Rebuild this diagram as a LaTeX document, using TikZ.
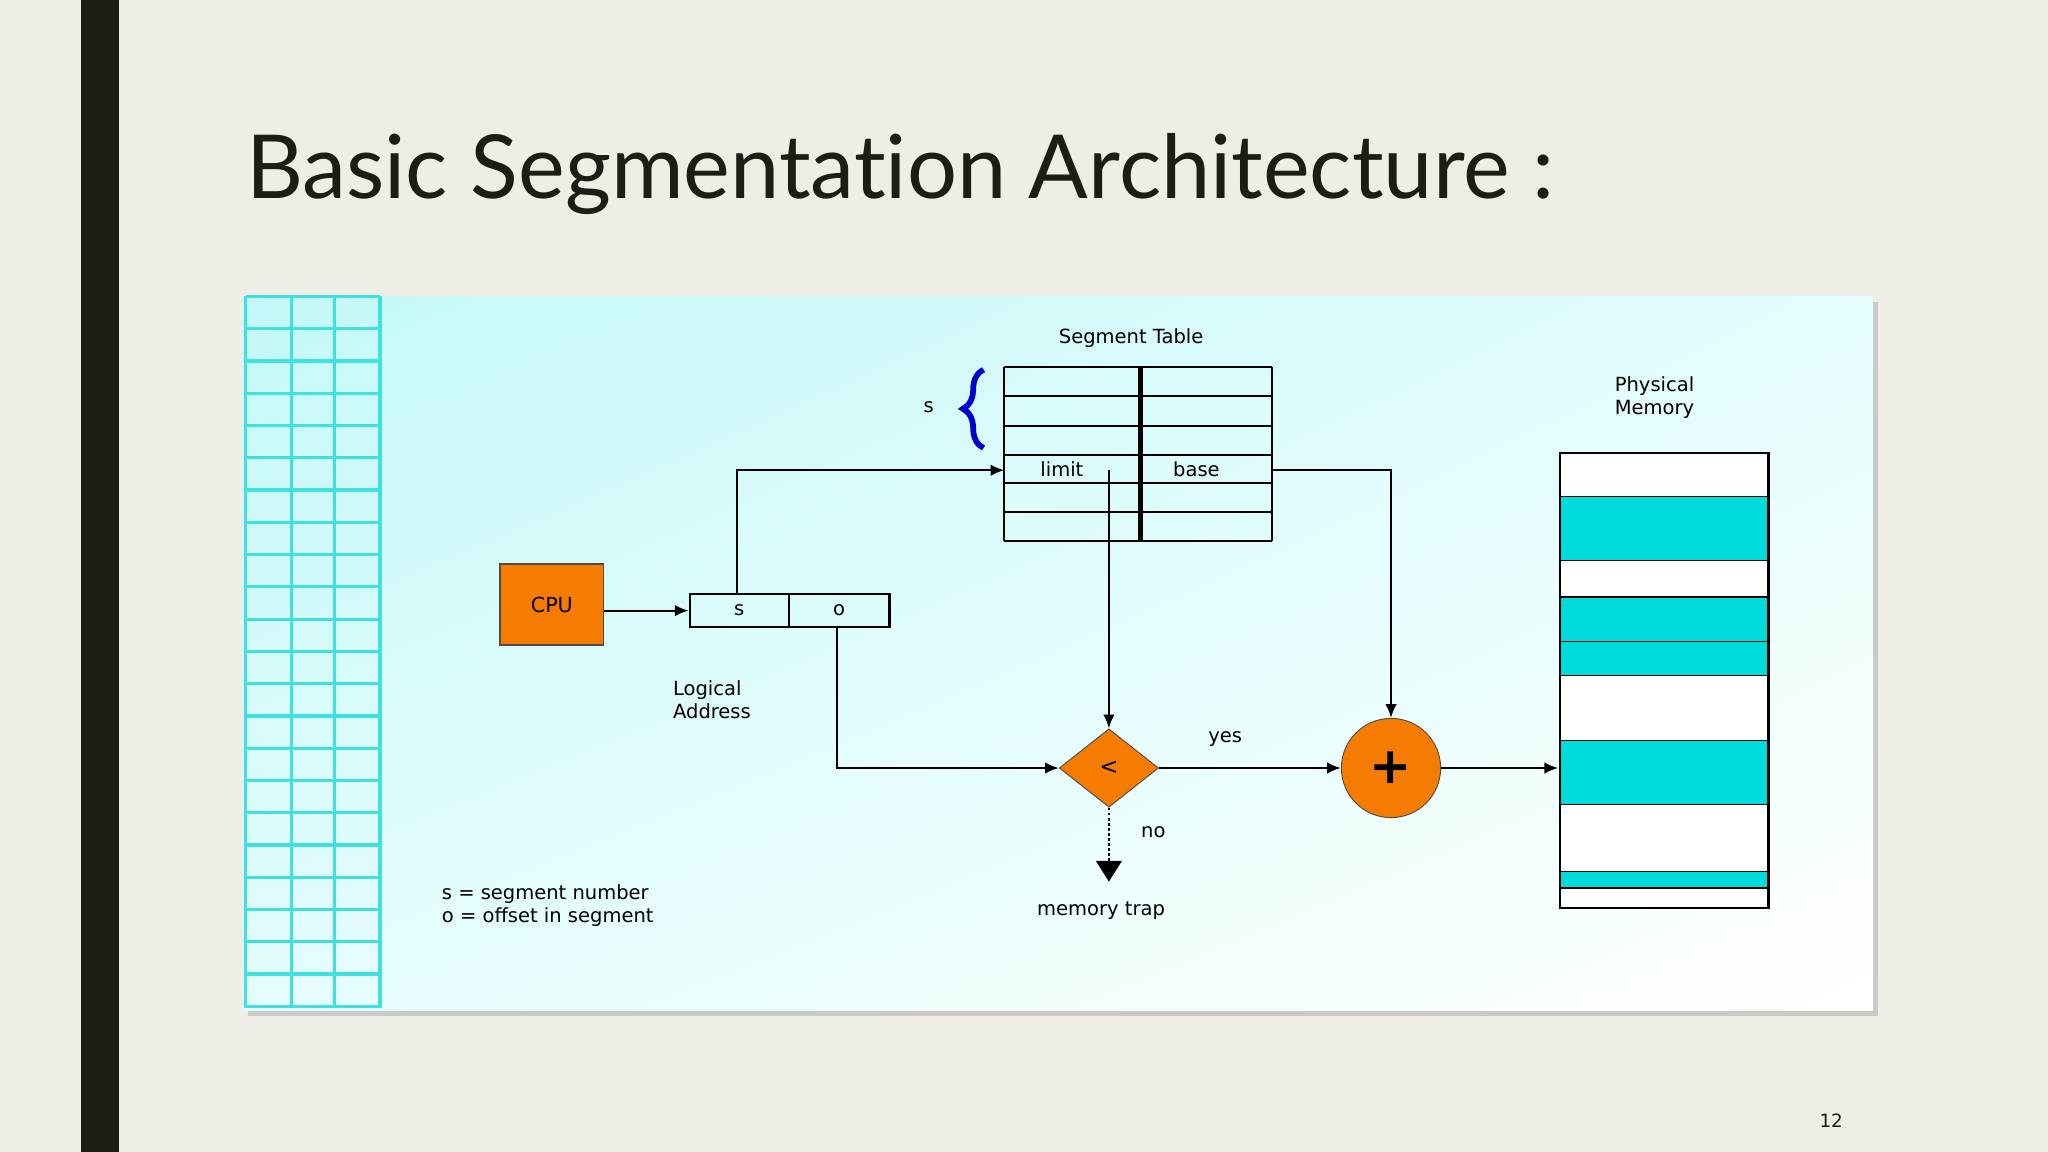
\documentclass[tikz,border=0pt]{standalone}
\usepackage{fontspec}
\setmainfont{DejaVu Sans}
\newfontfamily\titlefont[Ligatures=NoCommon,Contextuals=NoAlternate]{Lato}
\usetikzlibrary{shapes.geometric,arrows.meta,decorations.pathreplacing,calc,shadings}
\definecolor{bg}{HTML}{EEEDE6}
\definecolor{bar}{HTML}{1E1C14}
\definecolor{orng}{HTML}{F57C00}
\definecolor{cyn}{HTML}{00DCDC}
\definecolor{grid}{HTML}{40E0E0}
\definecolor{lc}{HTML}{C4F8F8}
\definecolor{lc2}{HTML}{E4FCFC}
\begin{document}
\begin{tikzpicture}[x=0.02cm,y=-0.02cm,
  lbl/.style={font=\fontsize{8.5}{10}\selectfont,inner sep=0pt},
  arr/.style={-{Latex[length=6pt,width=5pt]},line width=0.9pt},
  ln/.style={line width=0.9pt}]
\fill[bg] (0,0) rectangle (1568,882);
\useasboundingbox (0,0) rectangle (1568,882);
\fill[bar] (62,0) rectangle (91,882);
\node[anchor=base west,inner sep=0pt,font=\titlefont\fontsize{38.5}{46}\selectfont,text=bar] (title) at (188,152) {Basic Segmentation Architecture :};
% panel
\fill[gray!60,opacity=0.6] (190,231) rectangle (1438,778);
\shade[upper left=lc,upper right=lc2,lower left=lc2,lower right=white] (186,227) rectangle (1434,774);
\foreach \x in {188,223,256,291} \draw[grid,line width=1.4pt] (\x,227) -- (\x,772);
\foreach \i in {0,...,22} \draw[grid,line width=1.4pt] (188,{227+\i*24.7}) -- (291,{227+\i*24.7});
% segment table
\node[lbl] (sttl) at (866,259) {Segment Table};
\foreach \y in {281,303,326,348,370,392,414} \draw[ln] (769,\y) -- (974,\y);
\draw[ln] (769,281) -- (769,414) (974,281) -- (974,414);
\draw[line width=2pt] (873,281) -- (873,414);
\node[lbl] (lim) at (813,359) {limit};
\node[lbl] (bas) at (916,359) {base};
\draw[blue!80!black,line width=2.5pt,decorate,decoration={brace,amplitude=9pt}] (753,343) -- (753,283);
\node[lbl] (sl) at (711,312) {s};
% CPU
\node[draw=black!70,fill=orng,minimum width=79*0.02cm,minimum height=62*0.02cm,font=\fontsize{9}{10}\selectfont,line width=0.8pt] (cpu) at (422.5,463) {CPU};
\node[draw,ln,minimum width=76*0.02cm,minimum height=25*0.02cm,inner sep=0pt,lbl] (sb) at (566,467.5) {s};
\node[draw,ln,minimum width=77*0.02cm,minimum height=25*0.02cm,inner sep=0pt,lbl] (ob) at (642.5,467.5) {o};
\node[lbl,align=left,anchor=north west] (la) at (515,521) {Logical\\Address};
\draw[arr] (cpu.east |- sb) -- (sb.west);
\coordinate (tl) at (769,360);
\draw[arr] (564,455) |- (tl);
% diamond
\node[diamond,draw=black!70,fill=orng,minimum width=76*0.02cm,minimum height=60*0.02cm,inner sep=0pt,font=\fontsize{10}{10}\selectfont] (dm) at (849,588) {<};
\draw[arr] (849,360) -- (dm.north);
\draw[arr] (641,480) |- (dm.west);
\node[circle,draw=black!70,fill=orng,minimum size=76*0.02cm,inner sep=0pt,font=\fontsize{22}{22}\bfseries\selectfont] (pl) at (1065,588) {+};
\draw[arr] (dm.east) -- (pl.west);
\node[lbl] (yes) at (938,566) {yes};
\draw[arr] (974,360) -| (pl.north);
\coordinate (mt) at (849,675);
\draw[line width=1.2pt,densely dotted,-{Triangle[length=9pt,width=11pt]}] (dm.south) -- (mt);
\node[lbl] (no) at (883,637) {no};
\node[lbl] (trap) at (843,697) {memory trap};
% physical memory
\node[lbl,align=left,anchor=north west] (pm) at (1236,288) {Physical\\Memory};
\fill[white] (1194,347) rectangle (1354,695);
\foreach \a/\b in {380/429,457/491,491/517,567/616,667/680} \fill[cyn] (1194,\a) rectangle (1354,\b);
\foreach \y in {380,429,457,491,517,567,616,667,680} \draw[line width=0.6pt] (1194,\y) -- (1354,\y);
\draw[ln] (1194,347) rectangle (1354,695);
\coordinate (mem) at (1193,588);
\draw[arr] (pl.east) -- (mem);
\node[lbl,align=left,anchor=north west] (leg) at (338,677) {s = segment number\\o = offset in segment};
\node[font=\fontsize{8}{9}\selectfont,text=bar] (pg) at (1402,858) {12};
\end{tikzpicture}
\end{document}
